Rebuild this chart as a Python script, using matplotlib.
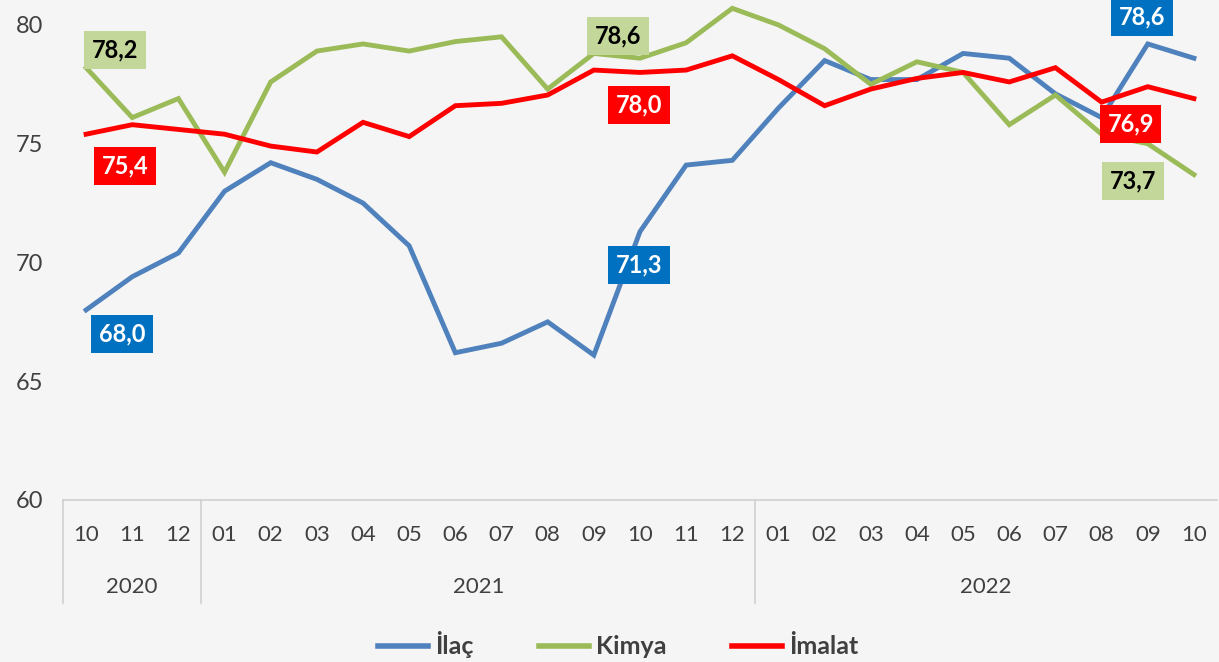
import matplotlib
matplotlib.use("Agg")
import matplotlib.pyplot as plt
import matplotlib.transforms as mtransforms
from matplotlib.lines import Line2D

months = ["10", "11", "12", "01", "02", "03", "04", "05", "06", "07", "08", "09",
          "10", "11", "12", "01", "02", "03", "04", "05", "06", "07", "08", "09", "10"]
years = ["2020", "2021", "2022"]
year_spans = [(0, 2), (3, 14), (15, 24)]

ilac = [68.0, 69.4, 70.4, 73.0, 74.2, 73.5, 72.5, 70.7, 66.2, 66.6, 67.5, 66.1,
        71.3, 74.1, 74.3, 76.5, 78.5, 77.7, 77.7, 78.8, 78.6, 77.1, 76.1, 79.2, 78.6]
kimya = [78.2, 76.1, 76.9, 73.8, 77.6, 78.9, 79.2, 78.9, 79.3, 79.5, 77.3, 78.8,
         78.6, 79.25, 80.7, 80.0, 79.0, 77.5, 78.45, 78.0, 75.8, 77.05, 75.4, 75.0, 73.7]
imalat = [75.4, 75.8, 75.6, 75.4, 74.9, 74.65, 75.9, 75.3, 76.6, 76.7, 77.05, 78.1,
          78.0, 78.1, 78.7, 77.7, 76.6, 77.3, 77.75, 78.0, 77.6, 78.2, 76.75, 77.4, 76.9]

series_names = ["İlaç", "Kimya", "İmalat"]
line_colors = ["#4F81BD", "#9BBB59", "#FF0000"]

plt.rcParams['font.family'] = ['Lato', 'DejaVu Sans']

W, H = 1219, 662
fig = plt.figure(figsize=(W / 100, H / 100), dpi=100)
fig.patch.set_facecolor("#F5F5F5")
ax = fig.add_axes([63 / W, 1 - 500 / H, (1217 - 63) / W, 500 / H])
ax.set_facecolor("#F5F5F5")

x = list(range(len(months)))
for vals, c in zip([ilac, kimya, imalat], line_colors):
    ax.plot(x, vals, color=c, lw=3.5, solid_joinstyle="miter", clip_on=False)

ax.set_xlim(-0.5, len(months) - 0.5)
ax.set_ylim(60, 81.05)
ax.set_yticks([60, 65, 70, 75, 80])
ax.tick_params(axis="y", length=0, labelsize=17, labelcolor="#404040", pad=14)
ax.set_xticks([])
for s in ["top", "right", "left"]:
    ax.spines[s].set_visible(False)
ax.spines["bottom"].set_color("#D0D0D0")
ax.spines["bottom"].set_linewidth(1.2)

# category labels
trans = mtransforms.blended_transform_factory(ax.transData, fig.transFigure)
for i, m in enumerate(months):
    ax.text(i, 1 - 535 / H, m, transform=trans, ha="center", va="center",
            fontsize=16, color="#404040")
for yname, (a, b) in zip(years, year_spans):
    ax.text((a + b) / 2, 1 - 587 / H, yname, transform=trans, ha="center",
            va="center", fontsize=16, color="#404040")
# separators
for xs in [-0.5, 2.5, 14.5]:
    ax.add_line(Line2D([xs, xs], [1 - 500 / H, 1 - 603 / H], transform=trans,
                       color="#D0D0D0", lw=1.2, clip_on=False))

# data labels
def lab(xi, y, text, fc, tc):
    ax.text(xi, y, text, ha="center", va="center", fontsize=17, fontweight="bold",
            color=tc, bbox=dict(boxstyle="square,pad=0.32", fc=fc, ec="none"))

lab(0.62, 78.95, "78,2", "#C4D79B", "black")
lab(0.85, 74.06, "75,4", "#FF0000", "white")
lab(0.78, 67.0, "68,0", "#0070C0", "white")
lab(11.52, 79.53, "78,6", "#C4D79B", "black")
lab(11.98, 76.63, "78,0", "#FF0000", "white")
lab(11.98, 69.89, "71,3", "#0070C0", "white")
lab(22.87, 80.33, "78,6", "#0070C0", "white")
lab(22.63, 75.83, "76,9", "#FF0000", "white")
lab(22.68, 73.43, "73,7", "#C4D79B", "black")

handles = [Line2D([0], [0], color=c, lw=4) for c in line_colors]
leg = fig.legend(handles, series_names, loc="center", bbox_to_anchor=(0.507, 1 - 645 / H),
                 ncol=3, frameon=False, handlelength=2.0, handletextpad=0.3,
                 columnspacing=2.6, prop=dict(size=18, weight="bold"))
for t in leg.get_texts():
    t.set_color("#404040")

fig.savefig("out.png", dpi=100, facecolor=fig.get_facecolor())
